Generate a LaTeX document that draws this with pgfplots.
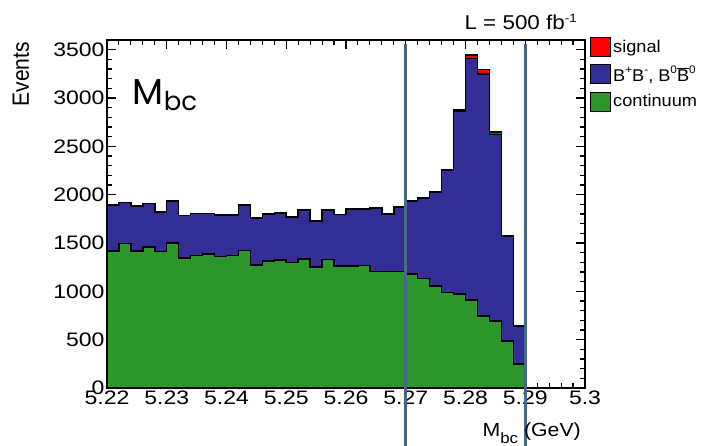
\documentclass[border=0pt]{standalone}
\usepackage{fontspec}
\setmainfont{Liberation Sans}
\newfontfamily\geo{Poppins}
\usepackage{graphicx}
\usepackage{pgfplots}
\pgfplotsset{compat=1.18}
\usepackage{pgfplotstable}
\definecolor{sigred}{RGB}{255,0,0}
\definecolor{bbblue}{RGB}{50,46,150}
\definecolor{contgreen}{RGB}{44,150,44}
\definecolor{cutline}{RGB}{72,104,136}
\newcommand\W[1]{\scalebox{1.12}[1]{#1}}
\newcommand\T[1]{\scalebox{1.18}[1]{#1}}
\newcommand\Wl[1]{\scalebox{1.07}[1]{#1}}
\newcommand\sups[1]{\raisebox{0.8ex}{\fontsize{11}{11}\selectfont #1}}

\pgfplotstableread{
x cont bb sig
5.220 1417 478 0
5.222 1496 422 0
5.224 1417 468 0
5.226 1458 452 0
5.228 1410 410 0
5.230 1499 435 0
5.232 1347 435 0
5.234 1372 434 0
5.236 1386 420 0
5.238 1358 431 0
5.240 1372 417 0
5.242 1420 472 0
5.244 1272 486 0
5.246 1316 483 0
5.248 1324 486 0
5.250 1300 471 0
5.252 1337 503 0
5.254 1254 473 0
5.256 1327 513 0
5.258 1261 535 0
5.260 1261 590 0
5.262 1268 586 0
5.264 1203 658 0
5.266 1203 599 0
5.268 1203 669 0
5.270 1179 758 0
5.272 1134 834 0
5.274 1055 972 0
5.276 986 1268 0
5.278 972 1892 18
5.280 910 2498 38
5.282 744 2506 45
5.284 693 1930 27
5.286 486 1086 0
5.288 248 393 0
5.290 248 393 0
}\data

\begin{document}
\begin{tikzpicture}[font=\fontsize{19}{22}\selectfont]
\useasboundingbox (-107pt,-58pt) rectangle (599pt,388pt);
\begin{axis}[
  at={(0,0)}, anchor=south west,
  width=478pt, height=348pt, scale only axis,
  xmin=5.22, xmax=5.3, ymin=0, ymax=3600,
  xtick={5.22,5.23,5.24,5.25,5.26,5.27,5.28,5.29,5.3},
  xticklabels={\T{5.22},\T{5.23},\T{5.24},\T{5.25},\T{5.26},\T{5.27},\T{5.28},\T{5.29},\T{5.3}},
  minor x tick num=4,
  ytick={0,500,1000,1500,2000,2500,3000,3500},
  yticklabels={\T{0},\T{500},\T{1000},\T{1500},\T{2000},\T{2500},\T{3000},\T{3500}},
  minor y tick num=4,
  tick align=inside,
  major tick length=9pt, minor tick length=5pt,
  axis line style={line width=1.3pt},
  every tick/.style={black, line width=1.1pt},
  /pgf/number format/assume math mode=true,
  tick label style={font=\fontsize{19.5}{22}\selectfont},
  xticklabel style={yshift=1pt},
  yticklabel style={xshift=1pt},
  clip=false,
  legend style={at={(rel axis cs:1,1)}, anchor=north west, xshift=5pt, yshift=3pt,
    draw=none, fill=none, row sep=7pt, inner sep=0pt,
    font=\fontsize{17}{20}\selectfont,
    nodes={inner sep=2pt, anchor=west}},
  legend cell align=left,
  legend image code/.code={\draw[#1, draw=black, line width=1pt] (0pt,-9.5pt) rectangle (20pt,9.5pt);},
]
\addplot[fill=sigred, draw=black, line width=1.5pt, const plot mark left]
  table[x=x, y expr=\thisrow{cont}+\thisrow{bb}+\thisrow{sig}] {\data} \closedcycle;
\addlegendentry{\Wl{signal}}
\addplot[fill=bbblue, draw=black, line width=1.5pt, const plot mark left]
  table[x=x, y expr=\thisrow{cont}+\thisrow{bb}] {\data} \closedcycle;
\addlegendentry{\Wl{B\sups{+}B\sups{-}, B\sups{0}$\overline{\mbox{B}}$\sups{0}}}
\addplot[fill=contgreen, draw=black, line width=1.5pt, const plot mark left]
  table[x=x, y=cont] {\data} \closedcycle;
\addlegendentry{\Wl{continuum}}

\draw[cutline, line width=3pt] (axis cs:5.27,3560) -- (axis cs:5.27,-620);
\draw[cutline, line width=3pt] (axis cs:5.29,3560) -- (axis cs:5.29,-620);

\node[rotate=90, anchor=east, inner sep=0pt, font=\fontsize{21}{24}\selectfont]
  at ([xshift=-86pt, yshift=-2pt]rel axis cs:0,1) {\scalebox{1}[1.12]{Events}};
\node[anchor=base east, inner sep=0pt]
  at ([xshift=-4pt, yshift=-49pt]rel axis cs:1,0) {\W{M\raisebox{-0.6ex}{\fontsize{15}{15}\selectfont bc} (GeV)}};
\node[anchor=base east, inner sep=0pt, font=\fontsize{20}{22}\selectfont]
  at ([xshift=-8pt, yshift=10pt]rel axis cs:1,1) {\W{L = 500 fb\raisebox{0.75ex}{\fontsize{12}{12}\selectfont -1}}};
\node[anchor=base west, inner sep=0pt, font=\geo\fontsize{36}{40}\selectfont]
  at (axis cs:5.2243,2937) {M\raisebox{-0.35ex}{\fontsize{26}{28}\selectfont bc}};
\end{axis}
\end{tikzpicture}
\end{document}
